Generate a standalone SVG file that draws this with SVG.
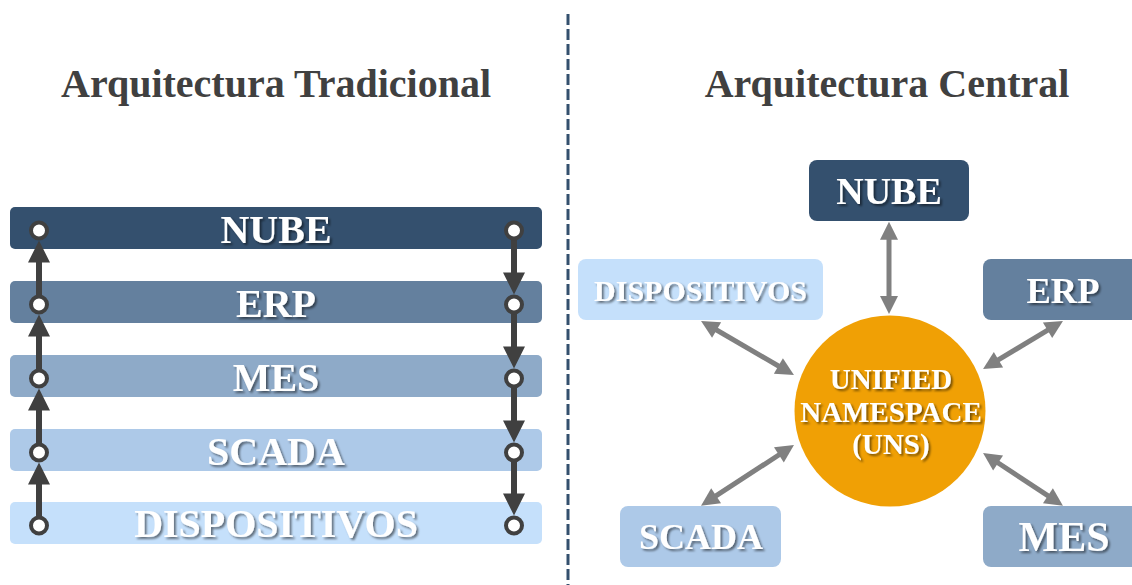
<svg xmlns="http://www.w3.org/2000/svg" width="1132" height="585" viewBox="0 0 1132 585">
<defs>
<style>
.title{font-family:"Liberation Serif","Times New Roman",serif;font-weight:bold;font-size:40px;fill:#404040;text-anchor:middle}
.lbl{font-family:"Liberation Serif","Times New Roman",serif;font-weight:bold;fill:#ffffff;text-anchor:middle;filter:url(#sh)}
.c1{fill:#34506e}.c2{fill:#64809e}.c3{fill:#8eaac8}.c4{fill:#adc9e8}.c5{fill:#c5e0fb}
.dk{stroke:#404040;stroke-width:6;fill:none;marker-end:url(#ahd)}
.gr{stroke:#808080;stroke-width:5;fill:none;marker-start:url(#ahg);marker-end:url(#ahg)}
.pt{fill:#ffffff;stroke:#404040;stroke-width:4}
</style>
<filter id="sh" x="-10%" y="-30%" width="130%" height="170%">
<feDropShadow dx="2" dy="2" stdDeviation="1.2" flood-color="#000000" flood-opacity="0.5"/>
</filter>
<marker id="ahd" markerUnits="userSpaceOnUse" markerWidth="22" markerHeight="22" refX="10" refY="11" orient="auto" overflow="visible">
<path d="M0,0 L22,11 L0,22 z" fill="#404040"/>
</marker>
<marker id="ahg" markerUnits="userSpaceOnUse" markerWidth="18" markerHeight="18" refX="8" refY="9" orient="auto-start-reverse" overflow="visible">
<path d="M0,0 L18,9 L0,18 z" fill="#808080"/>
</marker>
</defs>
<rect width="1132" height="585" fill="#ffffff"/>
<line x1="568" y1="14" x2="568" y2="585" stroke="#34506e" stroke-width="3" stroke-dasharray="11 4"/>
<text class="title" x="276" y="97">Arquitectura Tradicional</text>
<text class="title" x="887" y="97">Arquitectura Central</text>

<g id="trad-nube"><rect class="c1" x="10" y="207" width="532" height="42" rx="5"/><text class="lbl" x="276" y="242.5" font-size="40">NUBE</text></g>
<g id="trad-erp"><rect class="c2" x="10" y="281" width="532" height="42" rx="5"/><text class="lbl" x="276" y="317" font-size="40">ERP</text></g>
<g id="trad-mes"><rect class="c3" x="10" y="355" width="532" height="42" rx="5"/><text class="lbl" x="276" y="391" font-size="40">MES</text></g>
<g id="trad-scada"><rect class="c4" x="10" y="429" width="532" height="42" rx="5"/><text class="lbl" x="276" y="464.5" font-size="40">SCADA</text></g>
<g id="trad-disp"><rect class="c5" x="10" y="502" width="532" height="42" rx="5"/><text class="lbl" x="276" y="537" font-size="40">DISPOSITIVOS</text></g>

<g id="cen-nube"><rect class="c1" x="809" y="160" width="160" height="61" rx="8"/><text class="lbl" x="889" y="204" font-size="38">NUBE</text></g>
<g id="cen-disp"><rect class="c5" x="578" y="259" width="245" height="61" rx="8"/><text class="lbl" x="700.5" y="301" font-size="30">DISPOSITIVOS</text></g>
<g id="cen-erp"><rect class="c2" x="983" y="259" width="160" height="61" rx="8"/><text class="lbl" x="1063" y="303" font-size="36.5">ERP</text></g>
<g id="cen-scada"><rect class="c4" x="620" y="506" width="161" height="61" rx="8"/><text class="lbl" x="701" y="549" font-size="36">SCADA</text></g>
<g id="cen-mes"><rect class="c3" x="983" y="506" width="160" height="61" rx="8"/><text class="lbl" x="1064" y="551" font-size="42">MES</text></g>
<g id="cen-uns"><circle cx="890" cy="411" r="95.5" fill="#f0a005"/>
<text class="lbl" x="891" y="389" font-size="29">UNIFIED</text>
<text class="lbl" x="891" y="421.5" font-size="29">NAMESPACE</text>
<text class="lbl" x="891" y="454" font-size="29">(UNS)</text></g>

<g id="connectors">
<line class="dk" x1="39" y1="525.5" x2="39" y2="474.5"/>
<line class="dk" x1="39" y1="452.5" x2="39" y2="400.5"/>
<line class="dk" x1="39" y1="378.5" x2="39" y2="326.5"/>
<line class="dk" x1="39" y1="304.5" x2="39" y2="252.5"/>
<line class="dk" x1="514" y1="230.5" x2="514" y2="282.5"/>
<line class="dk" x1="514" y1="304.5" x2="514" y2="356.5"/>
<line class="dk" x1="514" y1="378.5" x2="514" y2="430.5"/>
<line class="dk" x1="514" y1="452.5" x2="514" y2="503.5"/>
<circle class="pt" cx="39" cy="230.5" r="8"/><circle class="pt" cx="39" cy="304.5" r="8"/><circle class="pt" cx="39" cy="378.5" r="8"/><circle class="pt" cx="39" cy="452.5" r="8"/><circle class="pt" cx="39" cy="525.5" r="8"/>
<circle class="pt" cx="514" cy="230.5" r="8"/><circle class="pt" cx="514" cy="304.5" r="8"/><circle class="pt" cx="514" cy="378.5" r="8"/><circle class="pt" cx="514" cy="452.5" r="8"/><circle class="pt" cx="514" cy="525.5" r="8"/>
<line class="gr" x1="889" y1="231.7" x2="889" y2="304"/>
<line class="gr" x1="709.7" y1="326" x2="785.3" y2="370"/>
<line class="gr" x1="1054.4" y1="326.1" x2="991.6" y2="363.9"/>
<line class="gr" x1="709.4" y1="500.2" x2="785.6" y2="450.5"/>
<line class="gr" x1="1054.6" y1="500.2" x2="991.4" y2="458.5"/>
</g>
</svg>
